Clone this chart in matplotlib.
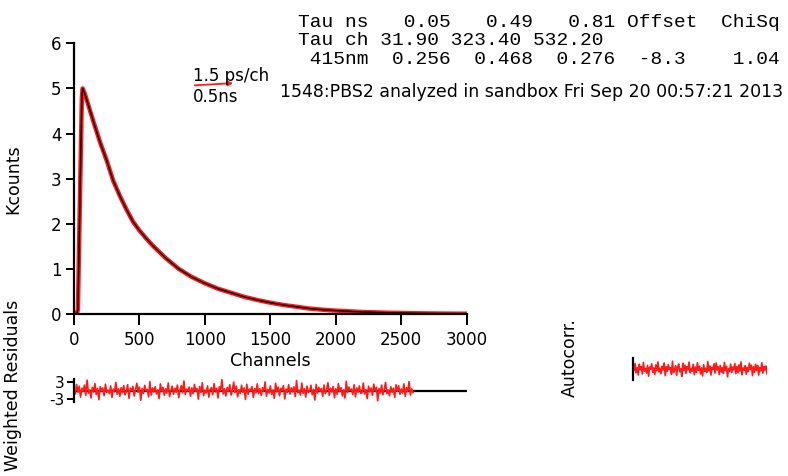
import matplotlib
matplotlib.use("Agg")
import matplotlib.pyplot as plt
from matplotlib.patches import FancyArrowPatch

W, H = 788, 476

# ---- data ----
channels = [0, 20, 30, 45, 60, 66, 80, 100, 150, 200, 250, 300, 350, 400, 450, 500, 550,
            600, 700, 800, 900, 1000, 1100, 1200, 1300, 1400, 1500, 1600, 1700, 1800,
            1900, 2000, 2200, 2400, 2600, 2800, 3000]
kcounts = [0.0, 0.0, 0.1, 2.5, 4.8, 5.0, 4.9, 4.72, 4.25, 3.8, 3.4, 2.95, 2.62, 2.32, 2.05, 1.85, 1.68,
           1.52, 1.24, 1.0, 0.82, 0.68, 0.56, 0.47, 0.38, 0.31, 0.25, 0.2, 0.16, 0.12,
           0.095, 0.075, 0.045, 0.028, 0.017, 0.01, 0.006]

x_ticks = [0, 500, 1000, 1500, 2000, 2500, 3000]
y_ticks = [0, 1, 2, 3, 4, 5, 6]
resid_ticks = [3, -3]

resid_step = 10
residuals = [
    0.4,-1.2,2.1,-0.6,1.5,-2.3,0.8,-0.3,1.9,-1.7,3.6,-0.9,0.2,-2.6,1.1,-0.5,2.4,-1.4,0.7,-3.2,
    1.3,-0.2,0.9,-1.8,2.2,-0.7,0.1,-1.1,1.6,-2.4,0.5,-0.4,2.8,-1.3,0.6,-2.0,1.0,-0.8,1.7,-1.5,
    -0.3,2.0,-2.7,0.8,-0.1,1.4,-1.9,0.3,2.5,-0.6,1.2,-3.4,0.7,-1.0,1.8,-0.2,0.4,-2.2,3.1,-1.6,
    0.9,-0.5,1.3,-1.2,0.2,-2.8,2.3,-0.4,1.1,-1.7,0.6,-0.9,2.6,-2.1,0.0,1.5,-1.3,0.8,-0.6,1.9,
    -2.5,0.3,1.7,-0.8,3.3,-1.4,0.5,-0.2,1.2,-2.0,0.9,-1.1,2.1,-0.3,0.7,-3.0,1.4,-0.7,2.7,-1.8,
    0.1,-0.9,1.6,-2.3,0.4,1.0,-1.5,2.4,-0.5,0.8,-2.6,1.3,-0.1,3.8,-1.2,0.6,-1.9,1.1,-0.4,2.0,
    -1.6,0.2,2.9,-0.7,1.5,-2.2,0.3,-1.0,1.8,-0.6,0.9,-3.1,2.2,-1.3,0.5,-0.2,1.4,-2.4,0.7,-0.8,
    2.3,-1.1,0.6,-1.7,1.0,-0.3,3.0,-2.0,0.4,-0.9,1.6,-1.4,0.2,-2.7,2.5,-0.5,1.2,-1.8,0.8,-0.1,
    1.7,-2.9,0.5,-0.6,2.0,-1.2,0.9,-0.4,1.3,-2.1,3.5,-0.8,0.1,-1.6,2.6,-1.0,0.6,-2.3,1.5,-0.7,
    -0.2,1.8,-1.5,0.4,-3.3,2.1,-0.9,1.1,-0.3,0.7,-2.0,1.9,-1.1,0.3,2.7,-1.7,0.8,-0.5,1.4,-2.5,
    0.6,-1.3,2.4,-0.4,1.0,-1.9,0.2,-2.6,3.2,-0.7,1.2,-0.1,0.5,-1.4,2.0,-2.2,0.9,-0.6,1.6,-1.0,
    -0.8,2.6,-1.2,0.3,-2.8,1.5,-0.5,0.9,-1.7,2.2,-0.2,1.1,-3.6,0.7,-0.9,1.9,-1.5,0.4,2.8,-1.1,
    0.2,-1.8,1.3,-0.6,0.8,-2.4,2.0,-0.3,1.7,-1.3,0.5,-0.9,2.3,-2.0,1.0,-0.4,3.1,-1.6,0.6,-0.7,
]
resid_channels = [i * resid_step for i in range(len(residuals))]

autocorr = [
    1.1,-0.6,2.0,-1.4,0.5,-2.2,1.7,-0.3,0.9,-1.8,2.4,-0.8,0.2,-1.5,1.3,-2.6,0.7,-0.1,1.9,-1.2,
    0.4,-2.0,1.5,-0.7,2.6,-1.1,0.3,-1.7,1.0,-0.4,2.2,-2.4,0.8,-0.9,1.6,-0.2,0.5,-1.9,2.8,-1.3,
    -0.5,1.2,-2.3,0.6,1.8,-1.0,0.1,-2.7,2.1,-0.6,1.4,-1.6,0.9,-0.3,2.5,-1.4,0.2,-0.8,1.7,-2.1,
    0.7,-1.2,2.3,-0.5,1.0,-1.8,0.4,-2.5,1.6,-0.9,0.3,-1.3,2.7,-0.7,1.1,-2.2,0.6,-0.2,1.9,-1.5,
    2.2,-0.4,0.8,-2.0,1.3,-1.1,0.5,-1.6,2.4,-0.6,1.0,-2.8,0.2,-0.9,1.8,-1.3,0.7,-0.3,2.0,-1.7,
    0.9,-1.4,1.5,-0.8,2.6,-2.1,0.4,-0.5,1.2,-1.9,0.6,-1.0,2.1,-0.2,1.4,-2.4,0.8,-1.2,1.7,-0.6,
    1.3,-2.2,0.5,-0.7,2.3,-1.5,0.9,-0.4,1.1,-1.8,
]
autocorr_lag = list(range(len(autocorr)))

header_lines = [
    "Tau ns   0.05   0.49   0.81 Offset  ChiSq",
    "Tau ch 31.90 323.40 532.20",
    " 415nm  0.256  0.468  0.276  -8.3    1.04",
]
title_text = "1548:PBS2 analyzed in sandbox Fri Sep 20 00:57:21 2013"

# ---- figure ----
plt.rcParams['font.family'] = ['DejaVu Sans']
fig = plt.figure(figsize=(W / 100, H / 100), dpi=100)

def fx(px):
    return px / W

def fy(py):
    return 1 - py / H

RED = '#ff1a1a'

# main decay axes
ax = fig.add_axes([fx(74), fy(314), fx(466.7) - fx(74), fy(43.3) - fy(314)])
ax.plot(channels, kcounts, color=RED, lw=3.2, solid_joinstyle='round')
ax.plot(channels, kcounts, color='#1a0000', lw=1.1)
ax.set_xlim(0, 3000)
ax.set_ylim(0, 6)
ax.set_xticks(x_ticks)
ax.set_yticks(y_ticks)
for s in ['top', 'right']:
    ax.spines[s].set_visible(False)
for s in ['left', 'bottom']:
    ax.spines[s].set_linewidth(1.6)
ax.tick_params(axis='both', labelsize=12, width=1.4, direction='out')
ax.tick_params(axis='y', length=6, pad=3)
ax.tick_params(axis='x', length=8, pad=4)

# residual axes
axr = fig.add_axes([fx(74), fy(402), fx(466.7) - fx(74), fy(379) - fy(402)])
axr.axhline(0, color='black', lw=1.6, zorder=1)
axr.plot(resid_channels, residuals, color=RED, lw=1.2, zorder=2)
axr.set_xlim(0, 3000)
axr.set_ylim(-4, 4)
axr.set_yticks(resid_ticks)
axr.set_yticklabels([str(t) for t in resid_ticks])
axr.set_xticks([])
for s in ['top', 'right', 'bottom']:
    axr.spines[s].set_visible(False)
axr.spines['left'].set_linewidth(1.6)
axr.tick_params(axis='y', labelsize=11, length=5, width=1.4, pad=2)
axr.patch.set_alpha(0)

# autocorrelation axes
axa = fig.add_axes([fx(633), fy(380), fx(767) - fx(633), fy(358) - fy(380)])
axa.plot(autocorr_lag, autocorr, color=RED, lw=1.2)
axa.set_xlim(0, len(autocorr) - 1)
axa.set_ylim(-4, 4)
axa.set_xticks([])
axa.set_yticks([])
for s in ['top', 'right', 'bottom']:
    axa.spines[s].set_visible(False)
axa.spines['left'].set_linewidth(1.6)
axa.patch.set_alpha(0)

# labels
fig.text(fx(13), fy(179), 'Kcounts', rotation=90, ha='center', va='center', fontsize=12.5)
fig.text(fx(13), fy(385), 'Weighted Residuals', rotation=90, ha='center', va='center', fontsize=12.5)
fig.text(fx(270), fy(361), 'Channels', ha='center', va='center', fontsize=12.5)
fig.text(fx(570), fy(358), 'Autocorr.', rotation=90, ha='center', va='center', fontsize=12.5)

# header text
for line, base in zip(header_lines, [26.7, 45.0, 63.5]):
    fig.text(fx(298), fy(base), line, family='Liberation Mono', fontsize=14,
             ha='left', va='baseline')
fig.text(fx(193), fy(80.7), '1.5 ps/ch', fontsize=12, ha='left', va='baseline')
fig.text(fx(193), fy(101.7), '0.5ns', fontsize=12, ha='left', va='baseline')
fig.text(fx(280), fy(97.3), title_text, fontsize=12.5, ha='left', va='baseline')

arrow = FancyArrowPatch((fx(192), fy(85.5)), (fx(236), fy(83)), transform=fig.transFigure,
                        arrowstyle='-|>', mutation_scale=7, color=RED, lw=1.3)
fig.patches.append(arrow)

fig.savefig('out.png', dpi=100)
